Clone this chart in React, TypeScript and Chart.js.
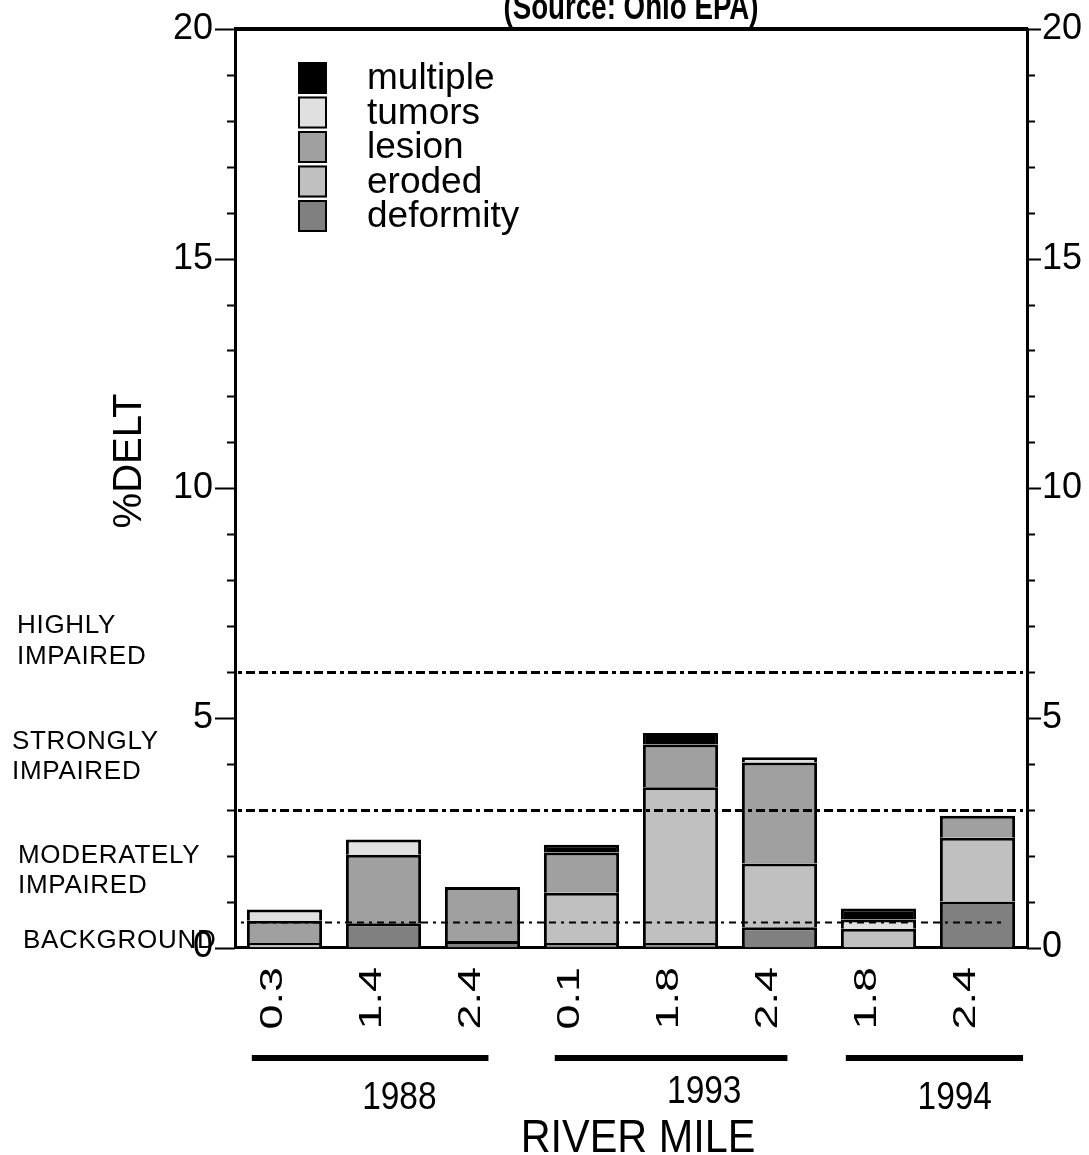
import React, { useEffect, useRef } from 'react';
import { Chart, registerables } from 'chart.js';

Chart.register(...registerables);

// ---------- data ----------
const riverMiles = ['0.3', '1.4', '2.4', '0.1', '1.8', '2.4', '1.8', '2.4'];
const deformity = [null, 0.53, 0.14, 0.1, 0.1, 0.44, null, 1.0];
const eroded = [0.1, null, null, 1.09, 3.39, 1.39, 0.41, 1.39];
const lesion = [0.48, 1.49, 1.18, 0.88, 0.93, 2.2, null, 0.48];
const tumors = [0.25, 0.33, null, null, null, 0.11, 0.2, null];
const multiple = [null, null, null, 0.17, 0.25, null, 0.24, null];

const years = ['1988', '1993', '1994'];
const yearLabelCenters = [1.16, 4.24, 6.77]; // in category units
const yearLineRanges = [[-0.33, 2.06], [2.73, 5.08], [5.67, 7.46]];

const thresholds = [6, 3, 0.55];
const zoneLabels = [
  { lines: ['HIGHLY', 'IMPAIRED'], x: 17, y: [633, 664] },
  { lines: ['STRONGLY', 'IMPAIRED'], x: 12, y: [749, 779] },
  { lines: ['MODERATELY', 'IMPAIRED'], x: 18, y: [863, 893] },
  { lines: ['BACKGROUND'], x: 23, y: [948] },
];

const series = [
  { label: 'deformity', data: deformity, color: '#808080' },
  { label: 'eroded', data: eroded, color: '#c0c0c0' },
  { label: 'lesion', data: lesion, color: '#a0a0a0' },
  { label: 'tumors', data: tumors, color: '#e0e0e0' },
  { label: 'multiple', data: multiple, color: '#000000' },
];

const FONT = '"Liberation Sans", Arial, Helvetica, sans-serif';

function scaledText(ctx: any, text: string, x: number, y: number, sx: number, sy = 1) {
  ctx.save();
  ctx.translate(x, y);
  ctx.scale(sx, sy);
  ctx.fillText(text, 0, 0);
  ctx.restore();
}

const overlayPlugin = {
  id: 'overlay',
  afterDatasetsDraw(chart: any) {
    const { ctx, chartArea: ca, scales } = chart;
    const y = scales.y;
    ctx.save();
    ctx.strokeStyle = '#000';
    thresholds.forEach((t, i) => {
      const py = Math.round(y.getPixelForValue(t)) + 0.5;
      ctx.beginPath();
      if (i < 2) {
        ctx.lineWidth = 3;
        ctx.setLineDash([4, 4, 9, 4, 9, 4]);
        ctx.moveTo(ca.left + 3, py);
        ctx.lineTo(ca.right - 4, py);
      } else {
        ctx.lineWidth = 2;
        ctx.setLineDash([3, 5, 7, 5, 7, 5]);
        ctx.moveTo(ca.left + 6, py);
        ctx.lineTo(ca.right - 26, py);
      }
      ctx.stroke();
    });
    ctx.restore();
  },
  afterDraw(chart: any) {
    const { ctx, chartArea: ca, scales } = chart;
    const x = scales.x;
    const y = scales.y;
    ctx.save();
    ctx.fillStyle = '#000';
    ctx.strokeStyle = '#000';
    ctx.setLineDash([]);

    // top frame line
    ctx.lineWidth = 4;
    ctx.beginPath();
    ctx.moveTo(ca.left - 1, ca.top);
    ctx.lineTo(ca.right + 1, ca.top);
    ctx.stroke();

    // tick marks on both sides
    ctx.lineWidth = 2;
    for (let v = 0; v <= 20; v++) {
      const py = Math.round(y.getPixelForValue(v)) + 0.5;
      const major = v % 5 === 0;
      ctx.beginPath();
      ctx.moveTo(ca.left - (major ? 20 : 8), py);
      ctx.lineTo(ca.left, py);
      ctx.moveTo(ca.right, py);
      ctx.lineTo(ca.right + (major ? 14 : 8), py);
      ctx.stroke();
    }

    // x category labels (rotated, stretched along the text)
    ctx.font = '31px ' + FONT;
    ctx.textAlign = 'right';
    ctx.textBaseline = 'middle';
    riverMiles.forEach((lab, i) => {
      ctx.save();
      ctx.translate(x.getPixelForTick(i) - 11, 967);
      ctx.rotate(-Math.PI / 2);
      ctx.scale(1.45, 1);
      ctx.fillText(lab, 0, 0);
      ctx.restore();
    });

    // title (partly cut off at the top)
    ctx.font = 'bold 36px ' + FONT;
    ctx.textAlign = 'center';
    ctx.textBaseline = 'alphabetic';
    scaledText(ctx, '(Source: Ohio EPA)', (ca.left + ca.right) / 2, 19, 0.77);

    // y title
    ctx.save();
    ctx.translate(130, 461);
    ctx.rotate(-Math.PI / 2);
    ctx.font = '40px ' + FONT;
    ctx.textAlign = 'center';
    ctx.textBaseline = 'middle';
    ctx.fillText('%DELT', 0, 0);
    ctx.restore();

    // zone labels
    ctx.font = '26px ' + FONT;
    ctx.textAlign = 'left';
    ctx.textBaseline = 'alphabetic';
    (ctx as any).letterSpacing = '0.7px';
    zoneLabels.forEach((z) => {
      z.lines.forEach((l, i) => ctx.fillText(l, z.x, z.y[i]));
    });
    (ctx as any).letterSpacing = '0px';

    // legend
    const legendItems = [...series].reverse();
    legendItems.forEach((s, i) => {
      const top = 62 + i * 34.5;
      ctx.fillStyle = s.color;
      ctx.fillRect(298, top, 29, 32);
      ctx.lineWidth = 2;
      ctx.strokeStyle = '#000';
      ctx.strokeRect(299, top + 1, 27, 30);
      ctx.fillStyle = '#000';
      ctx.font = '37px ' + FONT;
      ctx.textBaseline = 'middle';
      ctx.textAlign = 'left';
      ctx.fillText(s.label, 367, top + 17);
    });

    // year group lines + labels
    ctx.lineWidth = 6;
    yearLineRanges.forEach(([a, b]) => {
      ctx.beginPath();
      ctx.moveTo(x.getPixelForValue(a), 1058);
      ctx.lineTo(x.getPixelForValue(b), 1058);
      ctx.stroke();
    });
    ctx.font = '38px ' + FONT;
    ctx.textAlign = 'center';
    ctx.textBaseline = 'middle';
    years.forEach((yr, i) => {
      scaledText(ctx, yr, x.getPixelForValue(yearLabelCenters[i]), i === 1 ? 1093 : 1099, 0.88);
    });

    // x title
    ctx.font = '46px ' + FONT;
    scaledText(ctx, 'RIVER MILE', 638, 1139, 0.9);
    ctx.restore();
  },
};

export default function App() {
  const ref = useRef<HTMLCanvasElement>(null);
  useEffect(() => {
    document.body.style.margin = '0';
    const chart = new Chart(ref.current as HTMLCanvasElement, {
      type: 'bar',
      data: {
        labels: riverMiles,
        datasets: series.map((s) => ({
          label: s.label,
          data: s.data as any,
          backgroundColor: s.color,
          borderColor: '#000',
          borderWidth: 3,
          borderSkipped: 'bottom',
          barPercentage: 0.76,
          categoryPercentage: 1,
          yAxisID: 'y',
        })),
      },
      options: {
        responsive: false,
        animation: false,
        layout: { padding: { top: 29, left: 0, right: 0, bottom: 0 } },
        plugins: { legend: { display: false }, tooltip: { enabled: false }, title: { display: false } },
        scales: {
          x: {
            stacked: true,
            grid: { display: false },
            border: { display: true, width: 3, color: '#000' },
            ticks: { display: false, autoSkip: false },
            afterFit: (s: any) => { s.height = 1155 - 947.5; },
          },
          y: {
            stacked: true,
            position: 'left',
            min: 0,
            max: 20,
            grid: { display: false, drawTicks: true, tickLength: 20 },
            border: { display: true, width: 3, color: '#000' },
            ticks: {
              stepSize: 1,
              autoSkip: false,
              color: '#000',
              font: { family: FONT, size: 36 },
              padding: 2,
              callback: (v: any) => (Number(v) % 5 === 0 ? String(v) : ''),
            },
            afterFit: (s: any) => { s.width = 235; },
          },
          y2: {
            position: 'right',
            min: 0,
            max: 20,
            grid: { display: false, drawTicks: true, tickLength: 14 },
            border: { display: true, width: 3, color: '#000' },
            ticks: {
              stepSize: 1,
              autoSkip: false,
              color: '#000',
              font: { family: FONT, size: 36 },
              padding: 1,
              callback: (v: any) => (Number(v) % 5 === 0 ? String(v) : ''),
            },
            afterFit: (s: any) => { s.width = 62; },
          },
        },
      },
      plugins: [overlayPlugin],
    });
    return () => chart.destroy();
  }, []);
  return (
    <div style={{ position: 'absolute', left: 0, top: 0, width: 1089, height: 1155 }}>
      <canvas ref={ref} width={1089} height={1155} style={{ display: 'block' }} />
    </div>
  );
}
